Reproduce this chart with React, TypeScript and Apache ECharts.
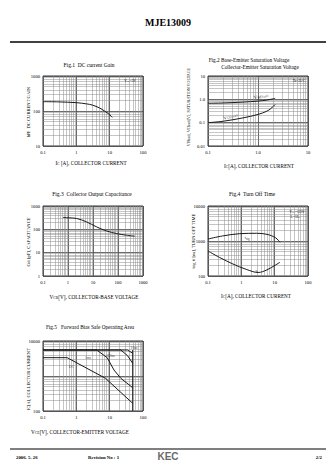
import React, { useEffect, useRef } from 'react';
import * as echarts from 'echarts';

// ---------- Data ----------
// Fig.1 DC current gain
const fig1Ic = [0.1, 0.3, 1, 2, 3, 5, 7, 9, 11, 12];
const fig1Hfe = [185, 182, 173, 160, 148, 122, 100, 85, 72, 66];

// Fig.2 saturation voltages
const fig2Ic = [0.1, 0.2, 0.5, 1, 1.5, 1.8, 2.2];
const fig2Vbe = [0.68, 0.7, 0.76, 0.84, 0.93, 1.0, 1.1];
const fig2Vce = [0.1, 0.115, 0.16, 0.225, 0.31, 0.4, 0.6];

// Fig.3 collector output capacitance
const fig3Vcb = [0.63, 1, 2.15, 5.4, 13.6, 34, 86, 215, 464];
const fig3Cob = [324, 312, 294, 211, 129, 86, 66, 56, 51];

// Fig.4 turn off time
const fig4IcS = [0.1, 0.27, 0.9, 2.9, 5.9, 10.6, 14.4];
const fig4Tstg = [1140, 1390, 1620, 1660, 1550, 1240, 920];
const fig4IcF = [0.1, 0.22, 0.56, 1.4, 3.2, 5.9, 10.6, 14.4];
const fig4Tf = [518, 341, 220, 155, 126, 150, 206, 246];

// Fig.5 forward bias SOA
const soaDcV = [0.1, 0.53, 7.5, 49];
const soaDcI = [3340, 3340, 858, 166];
const soa1msV = [0.1, 4.1, 8.4, 13.5, 21.6, 49];
const soa1msI = [5530, 5530, 3340, 1480, 858, 464];
const soa100usV = [0.1, 21.6, 34.5, 49];
const soa100usI = [5530, 5530, 3800, 2300];
const soa10usV = [0.1, 34.5, 49];
const soa10usI = [5530, 5530, 4440];
const soaLimitV = [49, 49];
const soaLimitI = [5530, 100];

// Tick labels
const fig1X = ['0.1', '1', '10', '100'];
const fig1Y = ['10', '100', '1000'];
const fig2X = ['0.1', '1.0', '10'];
const fig2Y = ['0.01', '0.1', '1.0', '10'];
const fig3X = ['0.1', '1', '10', '100', '1000'];
const fig3Y = ['1', '10', '100', '1000'];
const fig4X = ['0.1', '1', '10', '100'];
const fig4Y = ['100', '1000', '10000'];
const fig5X = ['0.1', '1', '10', '100'];
const fig5Y = ['100', '', '10000'];

const SERIF = '"Liberation Serif", "DejaVu Serif", serif';

const grids = [
  { left: 43, top: 76, width: 100, height: 70 },
  { left: 208, top: 76, width: 100, height: 70 },
  { left: 43, top: 206, width: 100, height: 70 },
  { left: 208, top: 206, width: 100, height: 70 },
  { left: 43, top: 341, width: 100, height: 70 },
];
const xDefs = [
  { min: 0.1, max: 100, labels: fig1X },
  { min: 0.1, max: 10, labels: fig2X },
  { min: 0.1, max: 1000, labels: fig3X },
  { min: 0.1, max: 100, labels: fig4X },
  { min: 0.1, max: 100, labels: fig5X },
];
const yDefs = [
  { min: 10, max: 1000, labels: fig1Y },
  { min: 0.01, max: 10, labels: fig2Y },
  { min: 1, max: 1000, labels: fig3Y },
  { min: 100, max: 10000, labels: fig4Y },
  { min: 100, max: 10000, labels: fig5Y },
];

const fmt = (labels: string[], min: number) => (v: number) => {
  const i = Math.round(Math.log10(v / min));
  return labels[i] ?? '';
};

const minorVals = (min: number, max: number) => {
  const out: number[] = [];
  for (let e = Math.round(Math.log10(min)); e < Math.round(Math.log10(max)); e++) {
    const d = Math.pow(10, e);
    for (let k = 2; k <= 9; k++) out.push(parseFloat((d * k).toPrecision(6)));
  }
  return out;
};

const axisCommon = (gi: number, def: { min: number; max: number; labels: string[] }, isY: boolean) => ({
  type: 'log',
  logBase: 10,
  gridIndex: gi,
  min: def.min,
  max: def.max,
  axisLine: { show: false },
  axisTick: { show: false },
  splitLine: { show: true, lineStyle: { color: '#444', width: 0.8 } },
  axisLabel: {
    formatter: fmt(def.labels, def.min),
    fontSize: 4.6,
    fontFamily: SERIF,
    color: '#000',
    margin: isY ? 3 : 4,
    showMinLabel: true,
    showMaxLabel: true,
  },
});

const pair = (xs: number[], ys: number[]) => xs.map((x, i) => [x, ys[i]]);

const curve = (gi: number, xs: number[], ys: number[], smooth: boolean | number = 0.35) => ({
  type: 'line',
  xAxisIndex: gi,
  yAxisIndex: gi,
  data: pair(xs, ys),
  smooth,
  symbol: 'none',
  silent: true,
  z: 5,
  lineStyle: { color: '#1a1a1a', width: 1 },
});

const RICH = (size: number) => ({
  s: { fontSize: size * 0.72, fontFamily: SERIF, fill: '#000', color: '#000', verticalAlign: 'bottom' },
});

const T = (text: string, x: number, y: number, size: number, o: any = {}) => ({
  type: 'text',
  x,
  y,
  silent: true,
  rotation: o.rot || 0,
  z: 10,
  style: {
    text,
    fontSize: size,
    fontFamily: o.family || SERIF,
    fontWeight: o.bold ? 'bold' : 'normal',
    fill: o.fill || '#000',
    align: o.align || 'center',
    verticalAlign: 'middle',
    rich: RICH(size),
  },
});

const labelSeries = (gi: number, items: any[], size: number) => ({
  type: 'scatter',
  xAxisIndex: gi,
  yAxisIndex: gi,
  symbolSize: 1,
  silent: true,
  z: 6,
  itemStyle: { color: 'rgba(0,0,0,0)' },
  label: {
    show: true,
    position: 'inside',
    fontFamily: SERIF,
    fontSize: size,
    color: '#000',
    rich: { s: { fontSize: size * 0.72, fontFamily: SERIF, color: '#000', verticalAlign: 'bottom' } },
  },
  data: items,
});

function buildOption() {
  const minorSeries = grids.map((_, gi) => ({
    type: 'line',
    xAxisIndex: gi,
    yAxisIndex: gi,
    data: [[xDefs[gi].min, yDefs[gi].min]],
    symbol: 'none',
    silent: true,
    z: 1,
    lineStyle: { width: 0 },
    markLine: {
      silent: true,
      symbol: ['none', 'none'],
      label: { show: false },
      animation: false,
      lineStyle: { type: 'solid', color: '#8a8a8a', width: 0.5 },
      data: [
        ...minorVals(xDefs[gi].min, xDefs[gi].max).map((v) => ({ xAxis: v })),
        ...minorVals(yDefs[gi].min, yDefs[gi].max).map((v) => ({ yAxis: v })),
      ],
    },
  }));

  const graphic = [
    T('MJE13009', 168, 22, 10, { bold: true }),
    { type: 'line', shape: { x1: 10, y1: 42, x2: 326, y2: 42 }, style: { stroke: '#000', lineWidth: 1.5 }, silent: true },
    { type: 'line', shape: { x1: 10, y1: 449, x2: 326, y2: 449 }, style: { stroke: '#000', lineWidth: 1 }, silent: true },
    // figure titles
    T('Fig.1  DC current Gain', 89, 65, 5.5),
    T('Fig.2 Base-Emitter Saturation Voltage', 249, 60, 5.3),
    T('Collector-Emitter Saturation Voltage', 260, 66.5, 5.3),
    T('Fig.3  Collector Output Capacitance', 92, 194, 5.5),
    T('Fig.4  Turn Off Time', 252, 194, 5.5),
    T('Fig.5   Forward Bias Safe Operating Area', 90, 327, 5.3),
    // x axis titles
    T('I{s|C} [A], COLLECTOR CURRENT', 91, 163, 5.2),
    T('I{s|C}[A], COLLECTOR CURRENT', 259, 166, 5.2),
    T('V{s|CB}[V], COLLECTOR-BASE VOLTAGE', 94, 297, 5.2),
    T('I{s|C}[A], COLLECTOR CURRENT', 256, 296, 5.2),
    T('V{s|CE}[V], COLLECTOR-EMITTER VOLTAGE', 80, 432, 5.2),
    // y axis titles
    T('h{s|FE}  DC CURRENT GAIN', 28, 112, 4.6, { rot: Math.PI / 2 }),
    T('V{s|BE(sat)}, V{s|CE(sat)}[V], SATURATION VOLTAGE', 188, 107, 4.1, { rot: Math.PI / 2 }),
    T('C{s|ob} [pF], CAPACITANCE', 28, 242, 4.6, { rot: Math.PI / 2 }),
    T('t{s|stg}, t{s|f} [ns], TURN OFF TIME', 193, 241, 4.6, { rot: Math.PI / 2 }),
    T('I{s|C}[A], COLLECTOR CURRENT', 28, 379, 4.6, { rot: Math.PI / 2 }),
    // annotations
    T('V{s|CE}=5V', 130, 81, 3.4),
    T('Ta=25°C', 299, 81, 3.4),
    T('V{s|CC}=125V', 297, 212, 3.4),
    T('I{s|C}=5I{s|B}', 295, 217, 3.4),
    // footer
    T('2006. 5. 26', 16, 457, 4.8, { bold: true, align: 'left' }),
    T('Revision No : 1', 88, 457, 4.8, { bold: true, align: 'left' }),
    T('KEC', 168, 456.5, 10, { family: '"Liberation Sans", Arial, sans-serif', fill: '#6a6a6a', bold: true }),
    T('2/2', 322, 457, 4.8, { bold: true, align: 'right' }),
  ];

  return {
    animation: false,
    backgroundColor: '#fff',
    grid: grids.map((g) => ({ ...g, show: true, borderColor: '#000', borderWidth: 0.8, backgroundColor: 'transparent' })),
    xAxis: xDefs.map((d, i) => axisCommon(i, d, false)),
    yAxis: yDefs.map((d, i) => axisCommon(i, d, true)),
    series: [
      ...minorSeries,
      curve(0, fig1Ic, fig1Hfe),
      curve(1, fig2Ic, fig2Vbe),
      curve(1, fig2Ic, fig2Vce),
      curve(2, fig3Vcb, fig3Cob),
      curve(3, fig4IcS, fig4Tstg),
      curve(3, fig4IcF, fig4Tf),
      curve(4, soaDcV, soaDcI, false),
      curve(4, soa1msV, soa1msI, false),
      curve(4, soa100usV, soa100usI, false),
      curve(4, soa10usV, soa10usI, false),
      curve(4, soaLimitV, soaLimitI, false),
      labelSeries(1, [
        { value: [1.15, 1.32], label: { formatter: 'V{s|BE(sat)}', rotate: 10 } },
        { value: [0.28, 0.18], label: { formatter: 'V{s|CE(sat)}', rotate: 15 } },
      ], 5),
      labelSeries(3, [
        { value: [1.5, 1240], label: { formatter: 't{s|stg}' } },
        { value: [2.9, 145], label: { formatter: 't{s|f}' } },
      ], 4.6),
      labelSeries(4, [
        { value: [0.72, 1810], label: { formatter: 'DC' } },
        { value: [2.24, 3270], label: { formatter: '1ms' } },
        { value: [10.5, 3730], label: { formatter: '100us' } },
        { value: [53.7, 6310], label: { formatter: '10us' } },
      ], 3.6),
    ],
    graphic,
  };
}

export default function App() {
  const ref = useRef<HTMLDivElement>(null);
  useEffect(() => {
    const chart = echarts.init(ref.current!, null, { renderer: 'svg', width: 336, height: 475 });
    chart.setOption(buildOption() as any);
    return () => chart.dispose();
  }, []);
  return (
    <div
      ref={ref}
      style={{ position: 'absolute', left: 0, top: 0, width: 336, height: 475, background: '#fff' }}
    />
  );
}
